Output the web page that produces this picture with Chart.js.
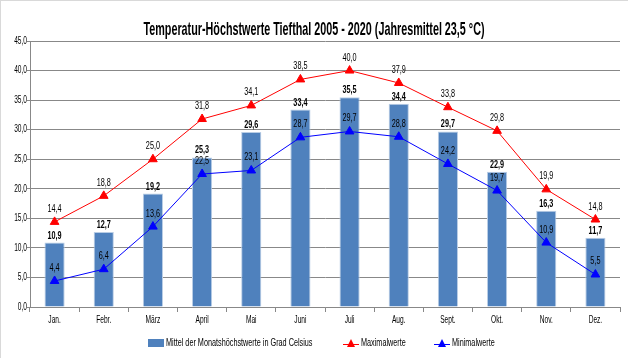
<!DOCTYPE html>
<html><head><meta charset="utf-8">
<script src="https://cdn.jsdelivr.net/npm/chart.js@4/dist/chart.umd.min.js"></script>
<style>
html,body{margin:0;padding:0;background:#fff;}
#wrap{position:relative;width:627px;height:357px;border-top:1px solid #d9d9d9;border-left:1px solid #d9d9d9;}
canvas{display:block;}
</style></head>
<body><div id="wrap"><canvas id="c" width="627" height="357"></canvas></div>
<script>
const categories = ["Jan.","Febr.","März","April","Mai","Juni","Juli","Aug.","Sept.","Okt.","Nov.","Dez."];
const meanValues = [10.9,12.7,19.2,25.3,29.6,33.4,35.5,34.4,29.7,22.9,16.3,11.7];
const maxValues = [14.4,18.8,25.0,31.8,34.1,38.5,40.0,37.9,33.8,29.8,19.9,14.8];
const minValues = [4.4,6.4,13.6,22.5,23.1,28.7,29.7,28.8,24.2,19.7,10.9,5.5];
const yTicks = [0,5,10,15,20,25,30,35,40,45];
const seriesNames = ["Mittel der Monatshöchstwerte in Grad Celsius","Maximalwerte","Minimalwerte"];
const titleText = "Temperatur-Höchstwerte Tiefthal 2005 - 2020 (Jahresmittel 23,5 °C)";

const FONT = "'Liberation Sans',Arial,sans-serif";
const SX = 0.66;
const fmt = v => v.toFixed(1).replace('.', ',');

function txt(ctx, s, x, y, align, sx){
  ctx.save();
  ctx.translate(x, y);
  ctx.scale(sx, 1);
  ctx.textAlign = align;
  ctx.fillText(s, 0, 0);
  ctx.restore();
}

const textPlugin = {
  id:'texts',
  afterDraw(chart){
    const ctx = chart.ctx;
    const xs = chart.scales.x, ys = chart.scales.y;
    ctx.save();
    ctx.fillStyle = "#000";
    ctx.textBaseline = "middle";
    // title
    ctx.font = "bold 19px " + FONT;
    const tw = ctx.measureText(titleText).width;
    txt(ctx, titleText, 313, 29, 'center', 341 / tw);
    // y ticks
    ctx.font = "10px " + FONT;
    yTicks.forEach(v => txt(ctx, fmt(v), 26, ys.getPixelForValue(v), 'right', SX));
    // x ticks
    categories.forEach((c, i) => txt(ctx, c, xs.getPixelForValue(i), 319, 'center', SX));
    // data labels
    ctx.textBaseline = "alphabetic";
    chart.data.datasets.forEach((ds, di) => {
      const meta = chart.getDatasetMeta(di);
      ctx.font = (ds.type === 'bar' ? "bold " : "") + "11px " + FONT;
      meta.data.forEach((el, i) => {
        const off = ds.type === 'bar' ? 4 : 10;
        txt(ctx, fmt(ds.data[i]), el.x, el.y - off, 'center', SX);
      });
    });
    // legend
    ctx.font = "11px " + FONT;
    ctx.textBaseline = "middle";
    const y = 342;
    ctx.fillStyle = "#4F81BD";
    ctx.fillRect(147, y-4, 16, 8);
    ctx.fillStyle = "#000";
    txt(ctx, seriesNames[0], 165, y, 'left', SX);
    const items = [[342,"#FF0000",seriesNames[1]],[433,"#0000FF",seriesNames[2]]];
    items.forEach(([lx,col,t]) => {
      ctx.strokeStyle = col; ctx.lineWidth = 1;
      ctx.beginPath(); ctx.moveTo(lx, y+1.5); ctx.lineTo(lx+16, y+1.5); ctx.stroke();
      ctx.fillStyle = col;
      ctx.beginPath(); ctx.moveTo(lx+8, y-4); ctx.lineTo(lx+12, y+4); ctx.lineTo(lx+4, y+4); ctx.closePath(); ctx.fill();
      ctx.fillStyle = "#000";
      txt(ctx, t, lx+18, y, 'left', SX);
    });
    ctx.restore();
  }
};

new Chart(document.getElementById('c'), {
  data: {
    labels: categories,
    datasets: [
      {type:'line', label: seriesNames[1], data: maxValues, borderColor:'#FF0000', backgroundColor:'#FF0000', borderWidth:1,
       pointStyle:'triangle', pointRadius:5, pointHoverRadius:5, order:1},
      {type:'line', label: seriesNames[2], data: minValues, borderColor:'#0000FF', backgroundColor:'#0000FF', borderWidth:1,
       pointStyle:'triangle', pointRadius:5, pointHoverRadius:5, order:0},
      {type:'bar', label: seriesNames[0], data: meanValues, backgroundColor:'#4F81BD', borderColor:'#B9CDE5', borderWidth:1,
       categoryPercentage:1, barPercentage:0.41, order:2}
    ]
  },
  options: {
    responsive:false, animation:false,
    layout:{padding:{left:0,right:8,top:40,bottom:46}},
    plugins:{
      legend:{display:false},
      tooltip:{enabled:false},
      title:{display:false}
    },
    scales:{
      x:{offset:true,
         grid:{offset:true, drawOnChartArea:false, drawTicks:true, tickLength:5, color:'#888'},
         border:{color:'#888'},
         ticks:{display:false}},
      y:{min:0, max:45,
         grid:{color:'#888', drawTicks:true, tickLength:3},
         border:{color:'#888'},
         afterFit(s){ s.width = 29; },
         ticks:{display:false, stepSize:5}}
    }
  },
  plugins:[textPlugin]
});
</script></body></html>
